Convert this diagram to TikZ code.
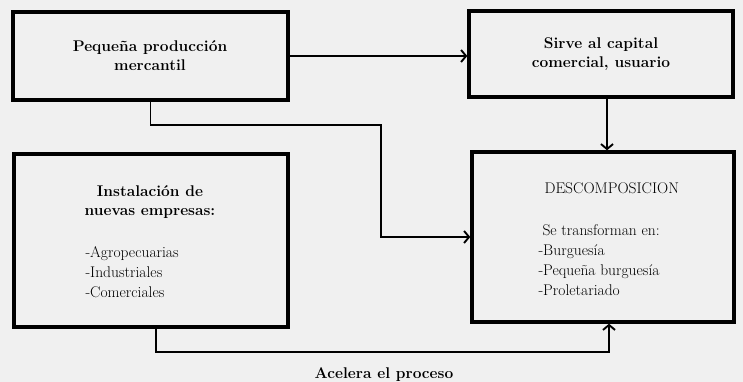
\documentclass[tikz,border=0pt]{standalone}
\usepackage{tikz}
\usetikzlibrary{arrows.meta,positioning}

\begin{document}
\begin{tikzpicture}[x=1pt,y=-1pt,
    >={Straight Barb[length=5pt,width=12pt,line width=1.9pt]},
    caja/.style={draw,line width=3.4pt,rectangle,inner sep=0pt},
    flecha/.style={->,line width=1.9pt},
    txt/.style={font=\fontsize{15.5}{19}\selectfont\bfseries,align=center,anchor=base},
    lista/.style={font=\fontsize{15.5}{20}\selectfont,align=left,anchor=base west}]
    % background
    \fill[black!6] (0,0) rectangle (743,382);
    \useasboundingbox (0,0) rectangle (743,382);

    % boxes
    \node[caja,minimum width=275pt,minimum height=88pt] (prod) at (150.5,56) {};
    \node[caja,minimum width=264pt,minimum height=86pt] (sirve) at (601,54) {};
    \node[caja,minimum width=274pt,minimum height=173pt] (inst) at (151,240.5) {};
    \node[caja,minimum width=262pt,minimum height=170pt] (desc) at (603,237) {};

    % texts (base = last line)
    \node[txt] (tprod) at (150,71) {Pequeña producción\\mercantil};
    \node[txt] (tsirve) at (601,68) {Sirve al capital\\comercial, usuario};
    \node[txt] (tinst) at (150,215) {Instalación de\\nuevas empresas:};
    \node[lista] (linst) at (82,297) {-Agropecuarias\\-Industriales\\-Comerciales};
    \node[txt,font=\fontsize{15.5}{19}\selectfont,anchor=base west] (tdesc) at (541,193) {DESCOMPOSICION};
    \node[lista] (ldesc) at (535,295) {\hspace{4pt}Se transforman en:\\-Burguesía\\-Pequeña burguesía\\-Proletariado};

    % connectors
    \coordinate (k1) at (381,125);
    \coordinate (k2) at (609,352);
    \draw[flecha] (prod.east) -- (prod.east -| sirve.west);
    \draw[flecha] ([xshift=6pt]sirve.south) -- ([xshift=6pt]sirve.south |- desc.north);
    \draw[flecha] (prod.south) -- (prod.south |- k1) -- (k1) -- (k1 |- desc.west) -- (desc.west);
    \draw[flecha] ([xshift=5pt]inst.south) -- ([xshift=5pt]inst.south |- k2) -- (k2) -- (k2 |- desc.south);
    \node[txt] (acel) at (384,378) {Acelera el proceso};
\end{tikzpicture}
\end{document}
